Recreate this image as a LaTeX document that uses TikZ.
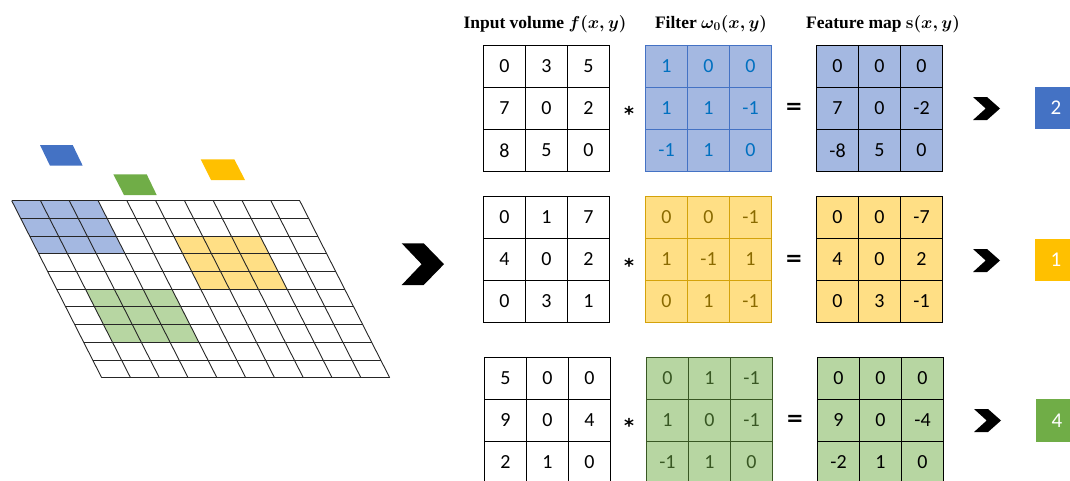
\documentclass[tikz,border=0pt]{standalone}
\usepackage{fontspec}
\setmainfont{Liberation Serif}
\newfontfamily\carl{Carlito}
\newfontfamily\djv{DejaVu Sans}
\usetikzlibrary{matrix}
\definecolor{bluefill}{HTML}{A4B8E1}
\definecolor{blueline}{HTML}{4472C4}
\definecolor{bluetext}{HTML}{0070C0}
\definecolor{yelfill}{HTML}{FFDF85}
\definecolor{yelline}{HTML}{D4A20A}
\definecolor{yeltext}{HTML}{8A6A00}
\definecolor{grnfill}{HTML}{B7D6A2}
\definecolor{grnline}{HTML}{385723}
\definecolor{grntext}{HTML}{385723}
\definecolor{bluesolid}{HTML}{4472C4}
\definecolor{yelsolid}{HTML}{FFC000}
\definecolor{grnsolid}{HTML}{70AD47}
\newcommand\matgrid[2]{%
  \draw[line width=1.1pt, #2] (#1-1-1.north west) rectangle (#1-3-3.south east)
    (#1-1-1.north east) -- (#1-3-1.south east)
    (#1-1-2.north east) -- (#1-3-2.south east)
    (#1-1-1.south west) -- (#1-1-3.south east)
    (#1-2-1.south west) -- (#1-2-3.south east);}
\begin{document}
\begin{tikzpicture}[x=1pt,y=-1pt,
  mat/.style={matrix of nodes, column sep=0pt, row sep=0pt, anchor=north west,
    inner sep=0pt, outer sep=0pt,
    nodes={minimum size=42pt, inner sep=0pt, outer sep=0pt,
      font=\carl\fontsize{20}{20}\selectfont, anchor=center}},
  inmat/.style={mat, fill=white, nodes={text=black}},
  bfilt/.style={mat, fill=bluefill, nodes={text=bluetext}},
  yfilt/.style={mat, fill=yelfill, nodes={text=yeltext}},
  gfilt/.style={mat, fill=grnfill, nodes={text=grntext}},
  bfeat/.style={mat, fill=bluefill, nodes={text=black}},
  yfeat/.style={mat, fill=yelfill, nodes={text=black}},
  gfeat/.style={mat, fill=grnfill, nodes={text=black}},
  head/.style={anchor=base, font=\bfseries\boldmath\fontsize{17.5}{20}\selectfont, inner sep=0pt},
  op/.style={font=\djv\bfseries\fontsize{19}{20}\selectfont, inner sep=0pt},
  eq/.style={font=\djv\bfseries\fontsize{21}{21}\selectfont, inner sep=0pt},
  result/.style={minimum size=42.4pt, inner sep=0pt, text=white, font=\carl\fontsize{21}{21}\selectfont},
  chev/.pic={\fill (0,0)--(0.52,0)--(1,0.5)--(0.52,1)--(0,1)--(0.47,0.5)--cycle;},
  gridline/.style={draw=black!85, line width=0.9pt}
]
\useasboundingbox (0,0) rectangle (1070,480);

% skewed input grid
\begin{scope}[shift={(11.7,200.7)}, x={(28.8pt,0pt)}, y={(9pt,-17.7pt)}]
  \fill[bluefill] (0,0)--(3,0)--(3,3)--(0,3)--cycle;
  \fill[yelfill] (5,2)--(8,2)--(8,5)--(5,5)--cycle;
  \fill[grnfill] (1,5)--(4,5)--(4,8)--(1,8)--cycle;
  \foreach \i in {0,...,10} {
    \draw[gridline] (\i,0)--(\i,10);
    \draw[gridline] (0,\i)--(10,\i);
  }
\end{scope}

% small parallelograms
\fill[bluesolid] (40,145)--(72.7,145)--(82.7,165.7)--(50,165.7)--cycle;
\fill[grnsolid] (113.3,174.3)--(146.7,174.3)--(156.7,195)--(124,195)--cycle;
\fill[yelsolid] (200.7,159.3)--(234.3,159.3)--(245,180)--(211,180)--cycle;

% big chevron
\pic[xscale=42.3, yscale=41.7] at (401.7,243.3) {chev};

% headers
\node[head] (h1) at (545,28) {Input volume $f(x,y)$};
\node[head] (h2) at (711,28) {Filter $\omega_0(x,y)$};
\node[head] (h3) at (883,28) {Feature map $\mathbf{s}(x,y)$};

% row 1 (blue)
\matrix[inmat] (in1) at (483.5,45.5) {0 & 3 & 5\\ 7 & 0 & 2\\ 8 & 5 & 0\\};
\matgrid{in1}{black}
\node[op] (ast1) at (629,113) {*};
\matrix[bfilt] (fl1) at (645.5,45.5) {1 & 0 & 0\\ 1 & 1 & -1\\ -1 & 1 & 0\\};
\matgrid{fl1}{blueline}
\node[eq] (eq1) at (794,108) {=};
\matrix[bfeat] (ft1) at (816.5,45.5) {0 & 0 & 0\\ 7 & 0 & -2\\ -8 & 5 & 0\\};
\matgrid{ft1}{black}
\pic[xscale=27, yscale=23] at (973,97) {chev};
\node[result, fill=bluesolid] (r1) at (1056,108) {2};

% row 2 (yellow)
\matrix[inmat] (in2) at (483.5,196.5) {0 & 1 & 7\\ 4 & 0 & 2\\ 0 & 3 & 1\\};
\matgrid{in2}{black}
\node[op] (ast2) at (629,265) {*};
\matrix[yfilt] (fl2) at (645.5,196.5) {0 & 0 & -1\\ 1 & -1 & 1\\ 0 & 1 & -1\\};
\matgrid{fl2}{yelline}
\node[eq] (eq2) at (794,260) {=};
\matrix[yfeat] (ft2) at (816.5,196.5) {0 & 0 & -7\\ 4 & 0 & 2\\ 0 & 3 & -1\\};
\matgrid{ft2}{black}
\pic[xscale=27, yscale=23] at (973,249) {chev};
\node[result, fill=yelsolid] (r2) at (1056,260) {1};

% row 3 (green)
\matrix[inmat] (in3) at (484.5,357.5) {5 & 0 & 0\\ 9 & 0 & 4\\ 2 & 1 & 0\\};
\matgrid{in3}{black}
\node[op] (ast3) at (629,425) {*};
\matrix[gfilt] (fl3) at (646.5,357.5) {0 & 1 & -1\\ 1 & 0 & -1\\ -1 & 1 & 0\\};
\matgrid{fl3}{grnline}
\node[eq] (eq3) at (795,420) {=};
\matrix[gfeat] (ft3) at (817.5,357.5) {0 & 0 & 0\\ 9 & 0 & -4\\ -2 & 1 & 0\\};
\matgrid{ft3}{black}
\pic[xscale=27, yscale=23] at (974,409) {chev};
\node[result, fill=grnsolid] (r3) at (1057,420.5) {4};
\end{tikzpicture}
\end{document}
